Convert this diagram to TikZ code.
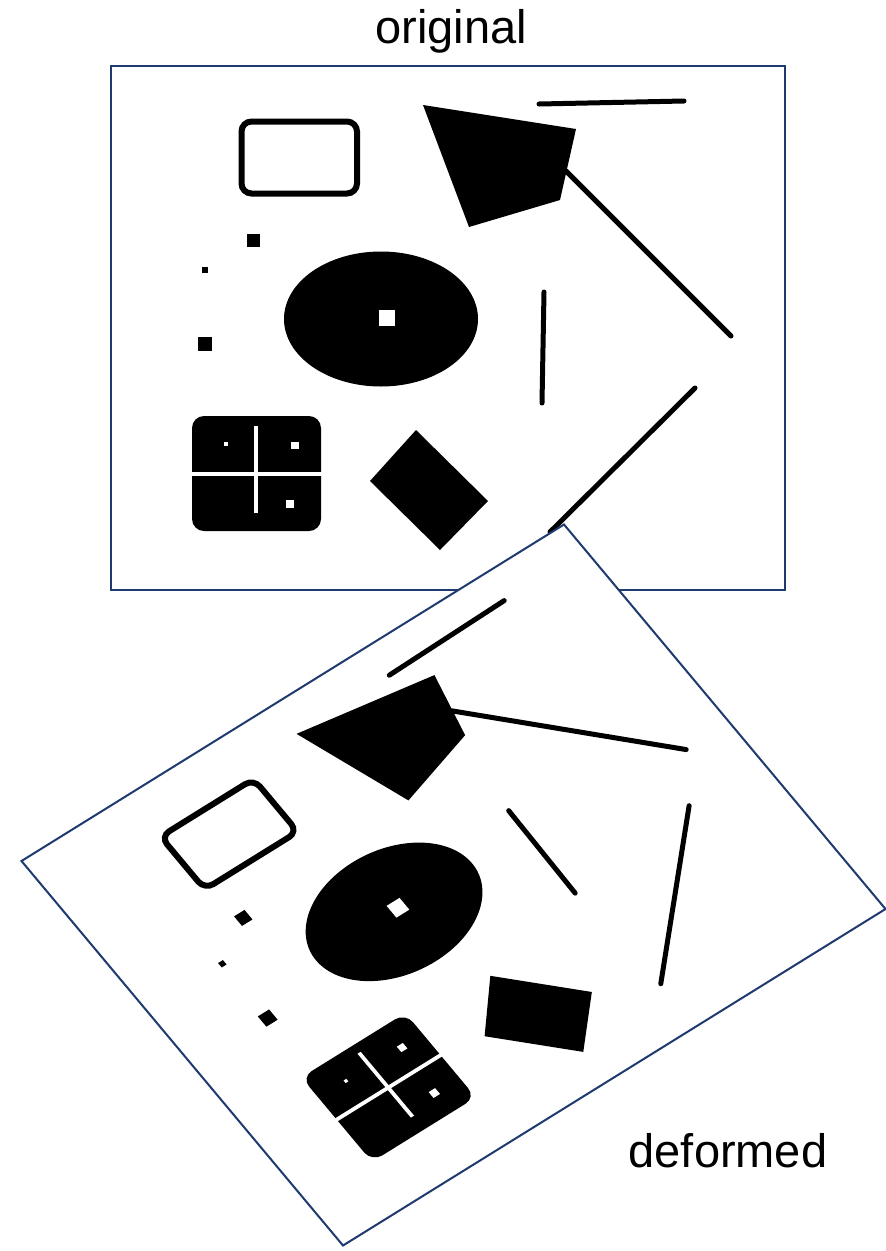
\documentclass[tikz,border=0pt]{standalone}
\usepackage{fontspec}
\setmainfont{Liberation Sans}
\definecolor{sheetnavy}{HTML}{1F3A6E}

% the set of shapes, drawn once as is and once deformed
\newcommand{\drawshapes}{%
  \draw[sheet] (111,66) rectangle (785,590);
  % bars
  \draw[barline] (539,104) -- (684,101);
  \draw[barline] (566,171) -- (731,336);
  \draw[barline] (544,292) -- (542,403);
  \draw[barline] (695,388) -- (550,532);
  % kite
  \fill[blob] (423,105) -- (576,129) -- (560,200) -- (469,227) -- cycle;
  % open box
  \draw[line width=6pt, rounded corners=10pt] (241.5,121.5) rectangle (357,193.5);
  % specks
  \fill[blob] (247,234) rectangle (260,247);
  \fill[blob] (202,267) rectangle (208,273);
  \fill[blob] (198,337) rectangle (212,351);
  % disc with hole
  \fill[blob] (381,319) ellipse [x radius=97, y radius=67.5];
  \fill[hole] (379,309.5) rectangle (395,325.5);
  % quartered block
  \fill[blob, rounded corners=12pt] (192,416) rectangle (321,531);
  \fill[hole] (189,471.5) rectangle (324,475.5);
  \fill[hole] (254,426) rectangle (258,513);
  \fill[hole] (224.3,442.3) rectangle (227.7,445.7);
  \fill[hole] (291,441.5) rectangle (298.5,449);
  \fill[hole] (286,500) rectangle (294,508);
  % tilted block
  \fill[blob] (416,430) -- (488,501) -- (440,550) -- (370,481) -- cycle;
}

\begin{document}
\begin{tikzpicture}[
    x=1pt, y=-1pt,
    sheet/.style={draw=sheetnavy, fill=white, line width=2.8pt},
    barline/.style={line width=5pt, line cap=round},
    blob/.style={fill=black},
    hole/.style={fill=white},
    tagtext/.style={font=\fontsize{47}{56}\selectfont, inner sep=0pt, anchor=base},
]
\useasboundingbox (0,0) rectangle (886,1251);
\fill[white] (0,0) rectangle (886,1251);

\drawshapes

\begin{scope}[cm={0.8049,0.49926,-0.61355,0.73378,(-108.34pt,-867.99pt)},
              sheet/.append style={line width=2pt}]
  \drawshapes
\end{scope}

\node[tagtext] (origtag) at (451,43) {original};
\node[tagtext] (deftag) at (728,1167) {deformed};

\end{tikzpicture}
\end{document}
